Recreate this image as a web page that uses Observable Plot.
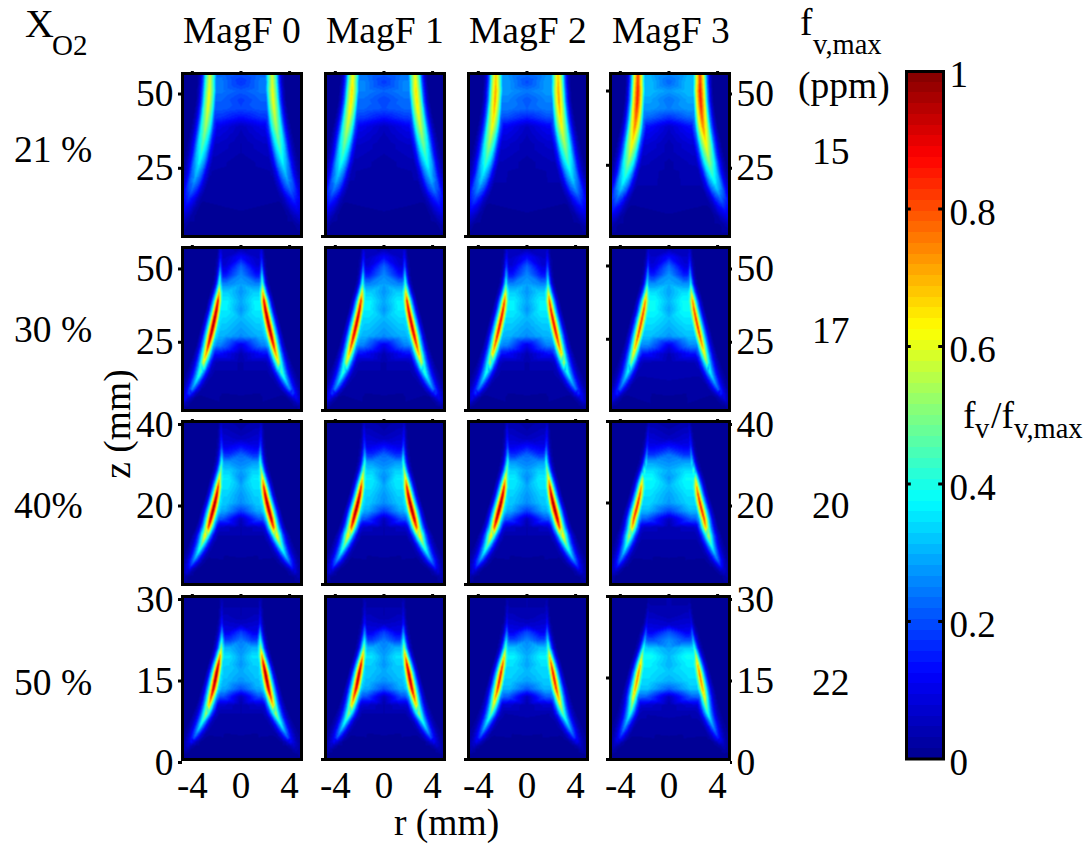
<!DOCTYPE html>
<html><head><meta charset="utf-8">
<script src="https://cdn.jsdelivr.net/npm/d3@7"></script>
<script src="https://cdn.jsdelivr.net/npm/@observablehq/plot@0.6"></script>
<style>
html,body{margin:0;padding:0;background:#fff}
#chart{position:relative;width:1092px;height:844px;overflow:hidden;font-family:"Liberation Serif",serif;color:#000}
#chart svg{position:absolute;overflow:visible;background:transparent}
#chart image{filter:blur(.7px)}
.t{position:absolute;white-space:nowrap;line-height:1}
</style></head><body><div id="chart"></div>
<script>
// ---- Readings from the picture (one column per height level) ----
const rowNames = ["21 %","30 %","40%","50 %"];
const columnNames = ["MagF 0","MagF 1","MagF 2","MagF 3"];
const fvMax = [15,17,20,22];
const rowDomains = [[1.03,55.9],[0.7,56.3],[0,40],[0,30]];
const rowTicks = [[25,50],[25,50],[20,40],[0,15,30]];

const z21 = [56,53,50,47,44,41,38,35,32,29,26,23,20,17,14,11,8,5,2,0];
const wing21 = [2.55,2.58,2.6,2.65,2.72,2.8,2.9,3.02,3.15,3.28,3.43,3.6,3.8,4.03,4.3,4.55,4.8,5.05,5.3,5.5];
const width21 = [1,1,1.05,1.05,1.1,1.15,1.2,1.25,1.28,1.3,1.35,1.35,1.4,1.45,1.45,1.45,1.4,1.3,1.2,1];
const peak21 = [.95,.97,1,1,.97,.92,.87,.8,.74,.67,.6,.52,.45,.37,.27,.19,.12,.06,.02,.01];
const centre21 = [.2,.17,.21,.18,.19,.13,.05,.04,.03,.03,.02,.02,.02,.02,.02,.02,.01,.01,.01,.01];
const inner21 = [.23,.24,.24,.22,.21,.17,.1,.08,.06,.05,.04,.03,.03,.02,.02,.01,.01,.01,.01,.01];

const z30 = [56,53,50,47,44,41,38,35,32,29,26,23,20,17,14,12.5,11,9.5,8,6.5,5,3.5,2,0];
const wing30 = [1.68,1.68,1.7,1.72,1.75,1.8,1.9,2.02,2.17,2.33,2.5,2.68,2.87,3.08,3.33,3.48,3.65,3.82,4.02,4.25,4.5,4.7,4.9,5.2];
const width30 = [.4,.42,.45,.5,.6,.75,.85,.9,.95,.98,1,1,1.05,1.1,1.15,1.15,1.15,1.15,1.15,1.1,1.05,1,.9,.8];
const peak30 = [.08,.14,.22,.34,.46,.68,.9,.97,1,1,.96,.87,.74,.6,.46,.41,.36,.31,.26,.19,.12,.07,.03,.01];
const centre30 = [.04,.13,.22,.26,.28,.27,.29,.27,.3,.28,.26,.1,.04,.03,.03,.03,.03,.02,.02,.02,.01,.01,.01,.01];
const inner30 = [.05,.06,.08,.14,.25,.33,.36,.36,.34,.32,.3,.25,.13,.04,.03,.03,.02,.02,.02,.02,.01,.01,.01,.01];

const z40 = [40,38,36,34,32,30,28,26,24,22,20,18,16,14,12,11,10,9,8,7,6,5,4,3,2,0];
const wing40 = [1.62,1.63,1.62,1.6,1.58,1.58,1.66,1.78,1.88,2,2.15,2.32,2.5,2.68,2.95,3.07,3.2,3.35,3.5,3.67,3.85,4.03,4.23,4.45,4.7,5.2];
const width40 = [.38,.4,.42,.46,.55,.65,.72,.78,.85,.9,.95,1,1,1.05,1.1,1.1,1.1,1.1,1.1,1.1,1.1,1.05,1,.95,.9,.8];
const peak40 = [.05,.1,.14,.2,.3,.42,.52,.66,.85,.95,1,1,.95,.82,.66,.58,.5,.44,.38,.32,.27,.2,.13,.08,.04,.01];
const centre40 = [.02,.03,.05,.13,.22,.25,.28,.26,.29,.27,.26,.18,.05,.03,.03,.03,.02,.02,.02,.02,.01,.01,.01,.01,.01,.01];
const inner40 = [.03,.05,.07,.1,.16,.27,.33,.36,.35,.33,.32,.29,.2,.06,.03,.03,.02,.02,.02,.02,.01,.01,.01,.01,.01,.01];

const z50 = [30,28,26.5,25,23.5,22,20.5,19,17.5,16,14.5,13,11.5,10,8.5,7.75,7,6.25,5.5,4.75,4,3.25,2.5,1.75,1,0];
const wing50 = [1.6,1.58,1.58,1.58,1.57,1.58,1.62,1.73,1.86,2,2.13,2.27,2.45,2.63,2.85,3,3.17,3.33,3.5,3.67,3.85,4.1,4.35,4.55,4.8,5.1];
const width50 = [.38,.38,.4,.45,.52,.65,.72,.78,.85,.9,.95,1,1,1.05,1.1,1.1,1.1,1.1,1.1,1.1,1.1,1.05,.98,.9,.85,.78];
const peak50 = [.03,.07,.1,.15,.27,.4,.55,.75,.92,1,1,.95,.83,.68,.55,.48,.42,.37,.32,.26,.2,.13,.07,.04,.02,.01];
const centre50 = [.03,.03,.03,.06,.18,.24,.26,.28,.27,.29,.27,.2,.05,.03,.03,.03,.02,.02,.02,.02,.01,.01,.01,.01,.01,.01];
const inner50 = [.02,.03,.05,.07,.1,.18,.3,.35,.33,.32,.31,.29,.2,.07,.03,.03,.02,.02,.02,.02,.01,.01,.01,.01,.01,.01];

// Strongest ridge value, plateau strength and ridge displacement, per panel (row by column)
const panelPeak = [[.62,.66,.72,.86],[1,.95,.9,.84],[1,1,1,.86],[1,.97,.88,.76]];
const panelPlateau = [[1,1.05,1.15,1.3],[1,1,1,1.05],[1,1,1,1.05],[1,1,1.05,1.1]];
const panelShift = [[0,.1,-.05,-.1],[0,0,-.05,.05],[0,0,0,.4],[0,.03,.14,.5]];
// Ridge cross-section: offset (share of the width) for each of three falling values, per row
const crossOffset = [[.3,.55,.8],[.2,.42,.7],[.2,.42,.7],[.2,.42,.7]];
const crossValue = [[.72,.32,.1],[.68,.36,.12],[.68,.36,.12],[.68,.36,.12]];

const colourStops = [0,.125,.375,.625,.875,1];
const colourValues = ["#00008f","#0000ff","#00ffff","#ffff00","#ff0000","#800000"];
const colourSteps = d3.range(64);
const barTicks = [0,.2,.4,.6,.8,1];

// ---- Layout of the figure ----
const rowData = [
  {z:z21,wing:wing21,width:width21,peak:peak21,centre:centre21,inner:inner21},
  {z:z30,wing:wing30,width:width30,peak:peak30,centre:centre30,inner:inner30},
  {z:z40,wing:wing40,width:width40,peak:peak40,centre:centre40,inner:inner40},
  {z:z50,wing:wing50,width:width50,peak:peak50,centre:centre50,inner:inner50}
];
const frameLeft = [181.5,324.5,467.5,609.5];
const frameTop = [72.5,246.5,420.5,595.5];
const frameW = 119, frameH = 163;
const ml = 60, mr = 60, mt = 12, mb = 50;
const serif = '"Liberation Serif",serif';
const chart = document.getElementById("chart");
const jet = d3.scaleLinear().domain(colourStops).range(colourValues);
const colorScale = {
  type:"threshold",
  domain: colourSteps.slice(1).map(i => i/64),
  range: colourSteps.map(i => jet((i+.5)/64))
};

function samples(row, col){
  const d = rowData[row], out = [];
  const pk = panelPeak[row][col], pl = panelPlateau[row][col], sh = panelShift[row][col];
  const [o1,o2,o3] = crossOffset[row], [c1,c2,c3] = crossValue[row];
  const zTop = d.z[0];
  d.z.forEach((z,i) => {
    const r = d.wing[i] + sh*Math.min(1,(zTop-z)/zTop*3)*Math.min(1,z/(.4*zTop)), w = d.width[i], p = d.peak[i]*pk, a = d.inner[i]*pl;
    out.push({r:0,z,v:d.centre[i]*pl});
    for (const s of [-1,1]) {
      out.push({r:s*6.5,z,v:.008},{r:s*(r+w),z,v:.012},{r:s*(r+o3*w),z,v:c3*p},{r:s*(r+o2*w),z,v:c2*p},{r:s*(r+o1*w),z,v:c1*p},{r:s*r,z,v:p});
      out.push({r:s*Math.max(r-o1*w,.25),z,v:Math.max(c1*p,a)},{r:s*Math.max(r-o2*w,.2),z,v:Math.max(c2*p,a)},{r:s*Math.max(r-o3*w,.15),z,v:Math.max(c3*p,a)},{r:s*Math.max(r-w,.1),z,v:a});
    }
  });
  return out;
}

function place(svg,x,y){ svg.style.left = x+"px"; svg.style.top = y+"px"; chart.appendChild(svg); }
function text(s,x,y,size,extra){
  const e = document.createElement("div"); e.className="t"; e.textContent=s;
  e.style.left=x+"px"; e.style.top=y+"px"; e.style.fontSize=size+"px";
  if (extra) Object.assign(e.style,extra);
  chart.appendChild(e);
}

rowNames.forEach((_,row) => columnNames.forEach((__,col) => {
  const ticks = rowTicks[row];
  const marks = [
    Plot.raster(samples(row,col),{x:"r",y:"z",fill:"v",interpolate:"barycentric"}),
    Plot.axisX({anchor:"top",ticks:[-4,0,4],tickSize:3,strokeWidth:3,tickFormat:()=>"" ,label:null}),
    Plot.frame({stroke:"#000",strokeWidth:3})
  ];
  if (row === 3) marks.push(Plot.axisX({anchor:"bottom",ticks:[-4,0,4],tickSize:0,tickPadding:12,fontSize:37,fontFamily:serif,tickFormat:String,label:null}));
  if (col === 0) marks.push(Plot.axisY({anchor:"left",ticks,tickSize:4,strokeWidth:3,tickPadding:5,fontSize:37.5,fontFamily:serif,dy:3,tickFormat:String,label:null}));
  else if (col === 3) {
    marks.push(Plot.axisY({anchor:"left",ticks,tickSize:4,strokeWidth:3,tickFormat:()=>"",label:null}));
    marks.push(Plot.axisY({anchor:"right",ticks,tickSize:2,strokeWidth:3,tickPadding:5,fontSize:37.5,fontFamily:serif,dy:3,tickFormat:String,label:null}));
  } else marks.push(Plot.axisY({anchor:"left",ticks:[rowDomains[row][0]],tickSize:4,strokeWidth:3,tickFormat:()=>"",label:null}));
  const svg = Plot.plot({
    width:frameW+ml+mr,height:frameH+mt+mb,marginLeft:ml,marginRight:mr,marginTop:mt,marginBottom:mb,
    x:{domain:[-4.81,4.98]},y:{domain:rowDomains[row]},color:colorScale,
    style:{background:"transparent",overflow:"visible"},marks
  });
  place(svg,frameLeft[col]-ml,frameTop[row]-mt);
}));

// Colour bar
const barSvg = Plot.plot({
  width:37+10+70,height:687.5+30,marginLeft:10,marginRight:70,marginTop:15,marginBottom:15,
  x:{domain:[0,1],axis:null},y:{domain:[0,1]},color:colorScale,
  style:{background:"transparent",overflow:"visible"},
  marks:[
    Plot.rect(colourSteps,{x1:0,x2:1,y1:d=>d/64,y2:d=>(d+1)/64,fill:d=>(d+.5)/64,shapeRendering:"crispEdges"}),
    Plot.ruleY(barTicks.slice(1,-1),{x1:0,x2:.13,stroke:"#000",strokeWidth:3}),
    Plot.ruleY(barTicks.slice(1,-1),{x1:.87,x2:1,stroke:"#000",strokeWidth:3}),
    Plot.axisY({anchor:"right",ticks:barTicks,tickSize:0,tickPadding:6,fontSize:37,fontFamily:serif,dy:4,tickFormat:String,label:null}),
    Plot.frame({stroke:"#000",strokeWidth:3})
  ]
});
place(barSvg,905.5-10,70.5-15);

// Text around the panels
columnNames.forEach((s,i)=>text(s,[183,326,469,612][i],12,37.5));
rowNames.forEach((s,i)=>text(s,14,[131,311,487,664][i],37.5));
fvMax.forEach((s,i)=>text(String(s),812,[133,312,487,664][i],37.5));
text("X",25,4,40);
text("O2",52,31,29);
text("f",800,4,37.5);
text("v,max",813,31,28.5);
text("(ppm)",798,67,37.5);
text("f",963,397,37.5);
text("v",975,415,28.5);
text("/f",991,397,37.5);
text("v,max",1014,415,28.5);
text("r (mm)",394,804,37.5);
text("z (mm)",118,424,37.5,{transform:"translate(-50%,-50%) rotate(-90deg)"});
</script></body></html>
